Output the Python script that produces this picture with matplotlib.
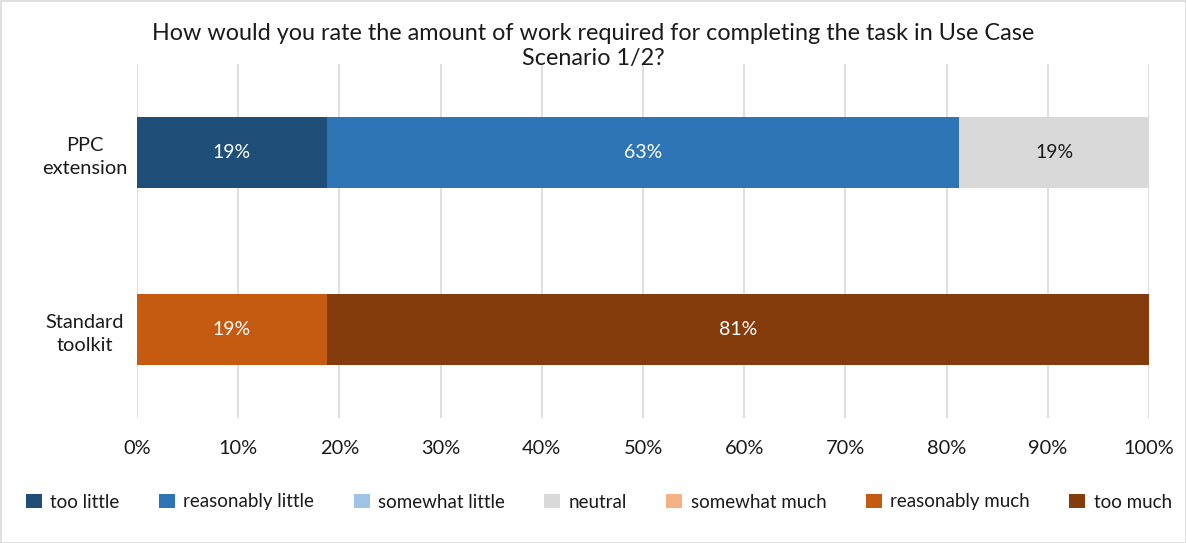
import matplotlib
matplotlib.use('Agg')
import matplotlib.pyplot as plt
from matplotlib.patches import Rectangle
from decimal import Decimal, ROUND_HALF_UP

plt.rcParams['font.family'] = ['Lato', 'DejaVu Sans']

# survey answers, share in percent per tool
groups = ['PPC\nextension', 'Standard\ntoolkit']
answers = ['too little', 'reasonably little', 'somewhat little', 'neutral',
           'somewhat much', 'reasonably much', 'too much']
shares = {
    'too little':        [18.75, 0.0],
    'reasonably little': [62.5, 0.0],
    'somewhat little':   [0.0, 0.0],
    'neutral':           [18.75, 0.0],
    'somewhat much':     [0.0, 0.0],
    'reasonably much':   [0.0, 18.75],
    'too much':          [0.0, 81.25],
}
colors = ['#1F4E79', '#2E75B6', '#9DC3E6', '#D9D9D9', '#F4B183', '#C55A11', '#843C0C']
label_colors = ['white', 'white', 'black', '#1a1a1a', 'black', 'white', 'white']
title = 'How would you rate the amount of work required for completing the task in Use Case\nScenario 1/2?'
ticks = [0, 10, 20, 30, 40, 50, 60, 70, 80, 90, 100]

W, H = 1186, 543
fig = plt.figure(figsize=(W / 100, H / 100), dpi=100)
ax = fig.add_axes([137 / W, 1 - 418 / H, (1149 - 137) / W, (418 - 64) / H])

left = [0.0] * len(groups)
for name, col, tcol in zip(answers, colors, label_colors):
    vals = shares[name]
    bars = ax.barh(range(len(groups)), vals, left=left, height=0.4, color=col,
                   label=name, zorder=3)
    for b, v in zip(bars, vals):
        if v > 0:
            # percentages rounded half up, as in the survey report
            txt = str(Decimal(str(v)).quantize(Decimal('1'), rounding=ROUND_HALF_UP)) + '%'
            ax.text(b.get_x() + b.get_width() / 2, b.get_y() + b.get_height() / 2, txt,
                    ha='center', va='center', color=tcol, fontsize=14, zorder=4)
    left = [l + v for l, v in zip(left, vals)]

ax.set_xlim(0, 100)
ax.set_ylim(-0.5, 1.5)
ax.invert_yaxis()
ax.set_xticks(ticks)
ax.set_xticklabels([f'{t}%' for t in ticks], fontsize=14.4, color='#1a1a1a')
ax.set_yticks(range(len(groups)))
ax.set_yticklabels(groups, fontsize=14.4, color='#1a1a1a', ha='center',
                   linespacing=1.4)
ax.tick_params(axis='y', length=0, pad=37.5)
ax.tick_params(axis='x', length=0, pad=16)
ax.grid(axis='x', color='#D9D9D9', linewidth=1.2, zorder=0)
for s in ax.spines.values():
    s.set_visible(False)

fig.text(593 / W, 1 - 46 / H, title, ha='center', va='center', fontsize=16.8,
         color='#1a1a1a', linespacing=1.2)

fig.legend(loc='center', bbox_to_anchor=(599 / W, 1 - 502 / H), ncol=7, frameon=False,
           fontsize=13.5, handlelength=0.85, handleheight=0.85, handletextpad=0.45,
           columnspacing=2.1, labelcolor='#1a1a1a')

fig.patches.append(Rectangle((0.5 / W, 0.5 / H), 1 - 1 / W, 1 - 1 / H, transform=fig.transFigure,
                             fill=False, edgecolor='#D9D9D9', linewidth=1.2))

fig.savefig('out.png', dpi=100)
